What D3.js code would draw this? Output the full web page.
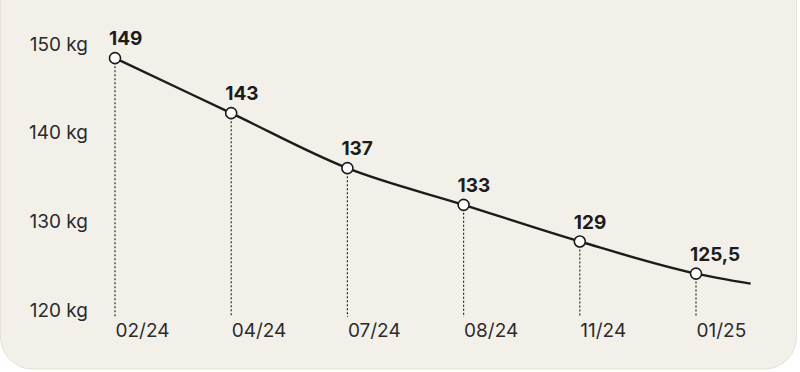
<!DOCTYPE html>
<html><head><meta charset="utf-8">
<script src="https://cdn.jsdelivr.net/npm/d3@7"></script>
<style>
html,body{margin:0;padding:0;background:#fff;}
svg{display:block;font-family:Inter, "Noto Sans", sans-serif;}
</style></head>
<body><svg id="chart" width="800" height="372"></svg>
<script>
const categories = ["02/24","04/24","07/24","08/24","11/24","01/25"];
const weights = [149, 143, 137, 133, 129, 125.5];
const valueLabels = ["149","143","137","133","129","125,5"];
const trendTail = {index: 5.47, value: 124.4};
const yTicks = [150, 140, 130, 120];
const yTickLabels = ["150 kg","140 kg","130 kg","120 kg"];

const svg = d3.select("#chart");
svg.append("rect").attr("x",0.5).attr("y",-30).attr("width",796).attr("height",399)
  .attr("rx",32).attr("fill","#f3f0ea").attr("stroke","#e7e2d5").attr("stroke-width",1);

const x = d3.scaleLinear().domain([0, categories.length-1]).range([115, 696]);
const y = d3.scaleLinear().domain([120, 150]).range([324, 49]);
const yAxisScale = d3.scaleLinear().domain([120, 150]).range([310, 44]);

// Y axis labels
const yAxis = d3.axisLeft(yAxisScale).tickValues(yTicks).tickSize(0)
  .tickFormat((d,i)=>yTickLabels[i]);
const gy = svg.append("g").attr("transform","translate(88,0)").call(yAxis);
gy.select(".domain").remove();
gy.selectAll("text").attr("font-size",19).attr("fill","#2b2b2b")
  .attr("font-family","Inter, 'Noto Sans', sans-serif").attr("x",0);

// Dotted drop lines
const pts = weights.map((v,i)=>({i, v, c: categories[i], lab: valueLabels[i]}));
svg.append("g").selectAll("line").data(pts).join("line")
  .attr("x1",d=>x(d.i)).attr("x2",d=>x(d.i))
  .attr("y1",d=>y(d.v)).attr("y2",317)
  .attr("stroke","#2b2b2b").attr("stroke-width",1.2).attr("stroke-dasharray","2,2");

// X labels
const xAxis = d3.axisBottom(x).tickValues(d3.range(categories.length)).tickSize(0)
  .tickFormat(i=>categories[i]);
const gx = svg.append("g").attr("transform","translate(0,320)").call(xAxis);
gx.select(".domain").remove();
gx.selectAll("text").attr("text-anchor","start").attr("font-size",19).attr("fill","#2b2b2b")
  .attr("font-family","Inter, 'Noto Sans', sans-serif").attr("dy","0.9em").attr("y",0);

// Line
const linePts = pts.map(d=>[x(d.i), y(d.v)]).concat([[x(trendTail.index), y(trendTail.value)]]);
svg.append("path").attr("d", d3.line().curve(d3.curveMonotoneX)(linePts))
  .attr("fill","none").attr("stroke","#1c1c1c").attr("stroke-width",2.4);

// Points
svg.append("g").selectAll("circle").data(pts).join("circle")
  .attr("cx",d=>x(d.i)).attr("cy",d=>y(d.v)).attr("r",5.5)
  .attr("fill","#fff").attr("stroke","#1c1c1c").attr("stroke-width",1.6);

// Value labels
svg.append("g").selectAll("text").data(pts).join("text")
  .attr("x",d=>x(d.i)-6).attr("y",d=>y(d.v)-13)
  .attr("font-size",19).attr("font-weight",700).attr("fill","#1c1c1c")
  .text(d=>d.lab);
</script></body></html>
